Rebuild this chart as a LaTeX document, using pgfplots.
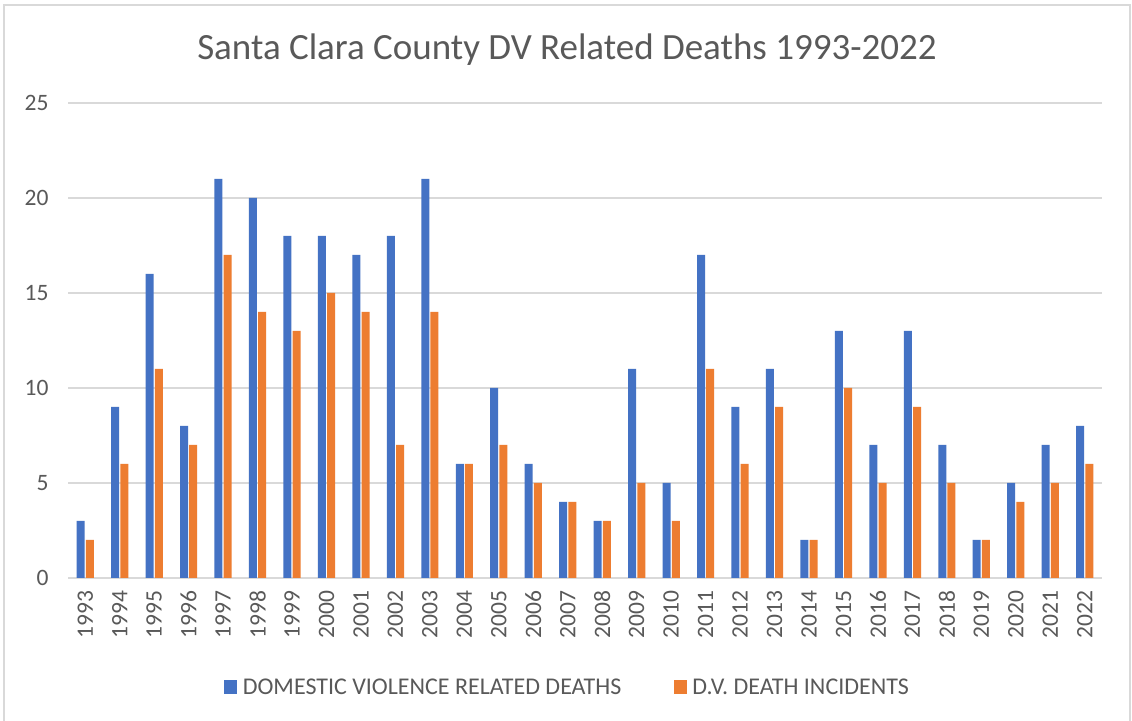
\documentclass[border=0pt]{standalone}
\usepackage{pgfplots}
\pgfplotsset{compat=1.18}
\usepackage{fontspec}
\setmainfont{Carlito}
\definecolor{cblue}{HTML}{4472C4}
\definecolor{corange}{HTML}{ED7D31}
\definecolor{cgrid}{HTML}{D9D9D9}
\definecolor{ctext}{HTML}{595959}
\begin{document}
\begin{tikzpicture}
\useasboundingbox (0,0) rectangle (1132bp,721bp);
\fill[white] (0,0) rectangle (1132bp,721bp);
\draw[cgrid, line width=2bp] (4bp,-10bp) rectangle (1130bp,716bp);
\node[text=ctext, font=\fontsize{37bp}{42bp}\selectfont] at (567bp,671bp) {Santa Clara County DV Related Deaths 1993-2022};
\begin{axis}[
  at={(68bp,143bp)}, anchor=south west,
  scale only axis, width=1034bp, height=475bp,
  ybar=1.2bp, bar width=8bp,
  xmin=-0.5, xmax=29.5, ymin=0, ymax=25,
  ytick={0,5,10,15,20,25},
  xtick={0,...,29},
  xticklabels={1993,1994,1995,1996,1997,1998,1999,2000,2001,2002,2003,2004,2005,2006,2007,2008,2009,2010,2011,2012,2013,2014,2015,2016,2017,2018,2019,2020,2021,2022},
  /pgf/number format/assume math mode=true,
  axis line style={draw=none},
  major tick style={draw=none},
  ymajorgrids, grid style={cgrid, line width=1.5bp},
  ticklabel style={text=ctext, font=\fontsize{23.5bp}{27bp}\selectfont},
  yticklabel style={xshift=-16bp},
  xticklabel style={rotate=90, anchor=east, xshift=-5bp},
  legend columns=2,
  legend style={at={(0.483,-0.2295)}, anchor=center, draw=none, fill=none,
    font=\fontsize{24bp}{28bp}\selectfont, text=ctext,
    /tikz/every odd column/.append style={column sep=4bp},
    /tikz/every even column/.append style={column sep=50bp}},
]
\addplot[fill=cblue, draw=none, legend image code/.code={\fill[cblue] (0bp,-7bp) rectangle (13bp,7bp);}] coordinates {
(0,3)(1,9)(2,16)(3,8)(4,21)(5,20)(6,18)(7,18)(8,17)(9,18)(10,21)(11,6)(12,10)(13,6)(14,4)(15,3)(16,11)(17,5)(18,17)(19,9)(20,11)(21,2)(22,13)(23,7)(24,13)(25,7)(26,2)(27,5)(28,7)(29,8)};
\addlegendentry{DOMESTIC VIOLENCE RELATED DEATHS}
\addplot[fill=corange, draw=none, legend image code/.code={\fill[corange] (0bp,-7bp) rectangle (13bp,7bp);}] coordinates {
(0,2)(1,6)(2,11)(3,7)(4,17)(5,14)(6,13)(7,15)(8,14)(9,7)(10,14)(11,6)(12,7)(13,5)(14,4)(15,3)(16,5)(17,3)(18,11)(19,6)(20,9)(21,2)(22,10)(23,5)(24,9)(25,5)(26,2)(27,4)(28,5)(29,6)};
\addlegendentry{D.V. DEATH INCIDENTS}
\end{axis}
\end{tikzpicture}
\end{document}
